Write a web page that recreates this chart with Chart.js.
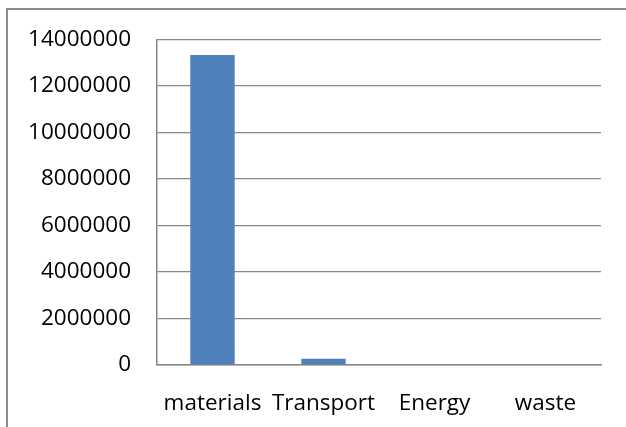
<!DOCTYPE html>
<html>
<head>
<meta charset="utf-8">
<script src="https://cdn.jsdelivr.net/npm/chart.js@4/dist/chart.umd.min.js"></script>
<style>
  html, body { margin: 0; padding: 0; background: #ffffff; }
  #wrap { position: relative; width: 626px; height: 427px; }
  canvas { display: block; }
</style>
</head>
<body>
<div id="wrap"><canvas id="c" width="626" height="427"></canvas></div>
<script>
const categories = ["materials", "Transport", "Energy", "waste"];
const values = [13330000, 270000, 0, 0];
const yMin = 0;
const yMax = 14000000;
const yStep = 2000000;

const frame = {
  id: 'frame',
  beforeDraw(chart) {
    const ctx = chart.ctx;
    ctx.save();
    ctx.fillStyle = '#ffffff';
    ctx.fillRect(0, 0, chart.width, chart.height);
    ctx.strokeStyle = '#8c8c8c';
    ctx.lineWidth = 2;
    ctx.beginPath();
    ctx.moveTo(7, chart.height);
    ctx.lineTo(7, 9);
    ctx.lineTo(chart.width, 9);
    ctx.stroke();
    ctx.restore();
  }
};

const font = { family: "'Open Sans', sans-serif", size: 22.5 };

new Chart(document.getElementById('c'), {
  type: 'bar',
  data: {
    labels: categories,
    datasets: [{
      data: values,
      backgroundColor: '#4f81bd',
      borderWidth: 0,
      barPercentage: 0.4,
      categoryPercentage: 1.0
    }]
  },
  options: {
    responsive: false,
    animation: false,
    events: [],
    layout: { padding: { left: 0, right: 25, top: 26, bottom: 0 } },
    plugins: { legend: { display: false }, tooltip: { enabled: false } },
    scales: {
      x: {
        grid: { display: false, drawTicks: false },
        border: { display: true, color: '#868686', width: 1.5 },
        ticks: { color: '#000000', font: font, padding: 25, maxRotation: 0, autoSkip: false },
        afterFit(s) { s.height = 62; }
      },
      y: {
        min: yMin,
        max: yMax,
        grid: { color: '#888888', lineWidth: 1.3, drawTicks: false },
        border: { display: true, color: '#868686', width: 1.5 },
        ticks: { stepSize: yStep, color: '#000000', font: font, padding: 26,
                 callback: (v) => String(v) },
        afterFit(s) { s.width = 157; }
      }
    }
  },
  plugins: [frame]
});
</script>
</body>
</html>
